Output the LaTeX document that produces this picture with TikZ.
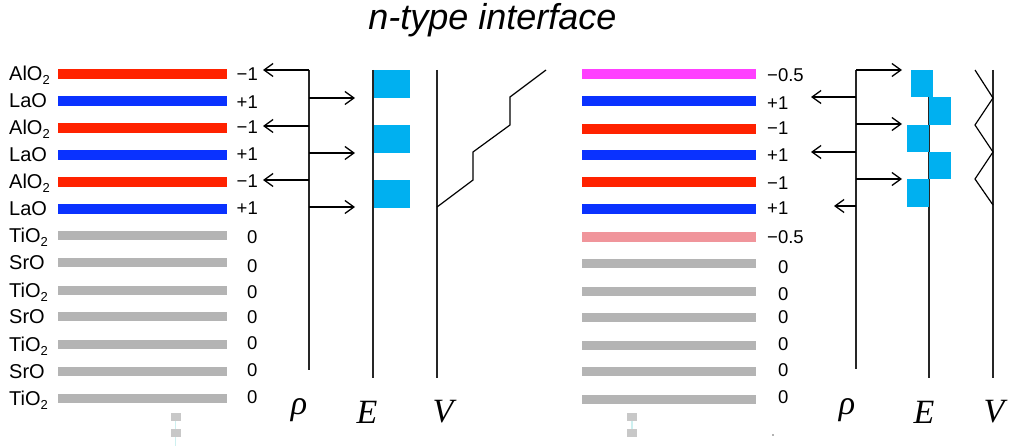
\documentclass[tikz,border=0pt]{standalone}
\usepackage{fontspec}
\setmainfont{Liberation Sans}
\newfontfamily\tms{Liberation Serif}
\usetikzlibrary{arrows.meta}
\definecolor{barred}{RGB}{255,34,0}
\definecolor{barblue}{RGB}{10,50,255}
\definecolor{bargray}{RGB}{180,180,180}
\definecolor{barmag}{RGB}{255,64,255}
\definecolor{barpink}{RGB}{240,149,155}
\definecolor{fieldblue}{RGB}{0,176,240}
\definecolor{sqgray}{RGB}{200,200,200}
\definecolor{sqcyan}{RGB}{205,240,240}
\newcommand\subtwo{\raisebox{-0.35ex}{\fontsize{13}{13}\selectfont 2}}
\begin{document}
\begin{tikzpicture}[x=1pt,y=-1pt,
  lbl/.style={anchor=base west,inner sep=0pt,font=\fontsize{20}{20}\selectfont},
  num/.style={anchor=west,inner sep=0pt,font=\fontsize{18.5}{18.5}\selectfont},
  axisline/.style={draw=black!85,line width=1.4pt},
  arr/.style={line width=1.3pt,-{Straight Barb[length=9pt,width=13pt,line width=1.3pt]}},
  greek/.style={inner sep=0pt,font=\tms\itshape\fontsize{34}{34}\selectfont},
  field/.style={fill=fieldblue},
  curve/.style={draw=black,line width=1.2pt}
]
\useasboundingbox (0,0) rectangle (1013,446);

% title
\node[font=\fontsize{36}{36}\selectfont\itshape] (title) at (492.5,20) {n-type interface};

% ---------- left panel: layers ----------
\foreach \y/\c in {74/barred,101/barblue,128/barred,155/barblue,182/barred,209/barblue}
  \fill[\c] (58,\y-5) rectangle (227,\y+5);
\foreach \y in {236,263,291,317,345,372,399}
  \fill[bargray] (58,\y-4.5) rectangle (227,\y+4.5);

\foreach \y/\t [count=\i] in {74/AlO\subtwo,101/LaO,128/AlO\subtwo,155/LaO,182/AlO\subtwo,209/LaO,236/TiO\subtwo,263/SrO,291/TiO\subtwo,317/SrO,345/TiO\subtwo,372/SrO,399/TiO\subtwo}
  \node[lbl] (L\i) at (9,\y+6.5) {\t};

\foreach \y/\t [count=\i] in {74/−1,102/+1,127/−1,154/+1,181/−1,208/+1}
  \node[num] (Ln\i) at (236.5,\y) {\t};
\foreach \y [count=\i] in {237,266,292,317,343,370,397}
  \node[num] (Lz\i) at (247,\y) {0};

% left rho
\coordinate (lrT) at (309,70);
\coordinate (lrB) at (309,370);
\draw[axisline] (lrT) -- (lrB);
\foreach \y [count=\i] in {70,126,180}{
  \coordinate (lrl\i) at (309,\y);
  \coordinate (lrle\i) at (263,\y);
  \draw[arr] (lrl\i) -- (lrle\i);
}
\foreach \y [count=\i] in {98,153,207}{
  \coordinate (lrr\i) at (309,\y);
  \coordinate (lrre\i) at (355,\y);
  \draw[arr] (lrr\i) -- (lrre\i);
}

% left E
\fill[field] (373,70) rectangle (410,98.5);
\fill[field] (373,125) rectangle (410,153);
\fill[field] (373,180) rectangle (410,208);
\coordinate (leT) at (373,70);
\coordinate (leB) at (373,378);
\draw[axisline] (leT) -- (leB);

% left V
\coordinate (lvT) at (437,70);
\coordinate (lvB) at (437,378);
\draw[axisline] (lvT) -- (lvB);
\draw[curve] (437,207) -- (473,180) -- (473,152) -- (510,125) -- (510,97) -- (546,70);

\node[greek] (lrho) at (299,410) {ρ};
\node[greek] (lE) at (367,412) {E};
\node[greek] (lV) at (443,412) {V};

% left small squares
\draw[sqcyan,line width=1.5pt] (175.5,421) -- (175.5,446);
\fill[sqgray] (170.5,413) rectangle (180.5,421.5);
\fill[sqgray] (170.5,429) rectangle (180.5,437.5);

% ---------- right panel: layers ----------
\foreach \y/\c in {74/barmag,101/barblue,129/barred,155/barblue,182/barred,209/barblue,237/barpink}
  \fill[\c] (582,\y-5) rectangle (756,\y+5);
\foreach \y in {264,292,318,346,372,400}
  \fill[bargray] (582,\y-4.5) rectangle (756,\y+4.5);

\foreach \y/\t [count=\i] in {75/−0.5,103/+1,128/−1,155/+1,183/−1,208/+1,237.5/−0.5}
  \node[num] (Rn\i) at (767,\y) {\t};
\foreach \y [count=\i] in {267,294,317.5,344,370.5,397.5}
  \node[num] (Rz\i) at (778,\y) {0};

% right rho
\coordinate (rrT) at (856,70);
\coordinate (rrB) at (856,369);
\draw[axisline] (rrT) -- (rrB);
\foreach \y [count=\i] in {70,124,179}{
  \coordinate (rrr\i) at (856,\y);
  \coordinate (rrre\i) at (902,\y);
  \draw[arr] (rrr\i) -- (rrre\i);
}
\foreach \y/\e [count=\i] in {97/811,152/811,206/834}{
  \coordinate (rrl\i) at (856,\y);
  \coordinate (rrle\i) at (\e,\y);
  \draw[arr] (rrl\i) -- (rrle\i);
}

% right E
\coordinate (reT) at (929,70);
\coordinate (reB) at (929,378);
\draw[axisline] (reT) -- (reB);
\fill[field] (911,70) rectangle (933,97.5);
\fill[field] (929,97) rectangle (951,125);
\fill[field] (907,125) rectangle (929,152.5);
\fill[field] (929,152) rectangle (951,179.5);
\fill[field] (907,179) rectangle (929,207);

% right V
\coordinate (rvT) at (993,70);
\coordinate (rvB) at (993,378);
\draw[axisline] (rvT) -- (rvB);
\draw[curve] (975,70) -- (993,98) -- (975,125) -- (993,152) -- (975,179) -- (993,205);

\node[greek] (rrho) at (847,410) {ρ};
\node[greek] (rE) at (924,412) {E};
\node[greek] (rV) at (994,412) {V};

% right small squares
\draw[sqcyan,line width=1.5pt] (632,421) -- (632,429);
\fill[sqgray] (627,413) rectangle (637,421.5);
\fill[sqgray] (627,429) rectangle (637,437);
\fill[black!60] (773,435) circle (0.8);
\end{tikzpicture}
\end{document}
